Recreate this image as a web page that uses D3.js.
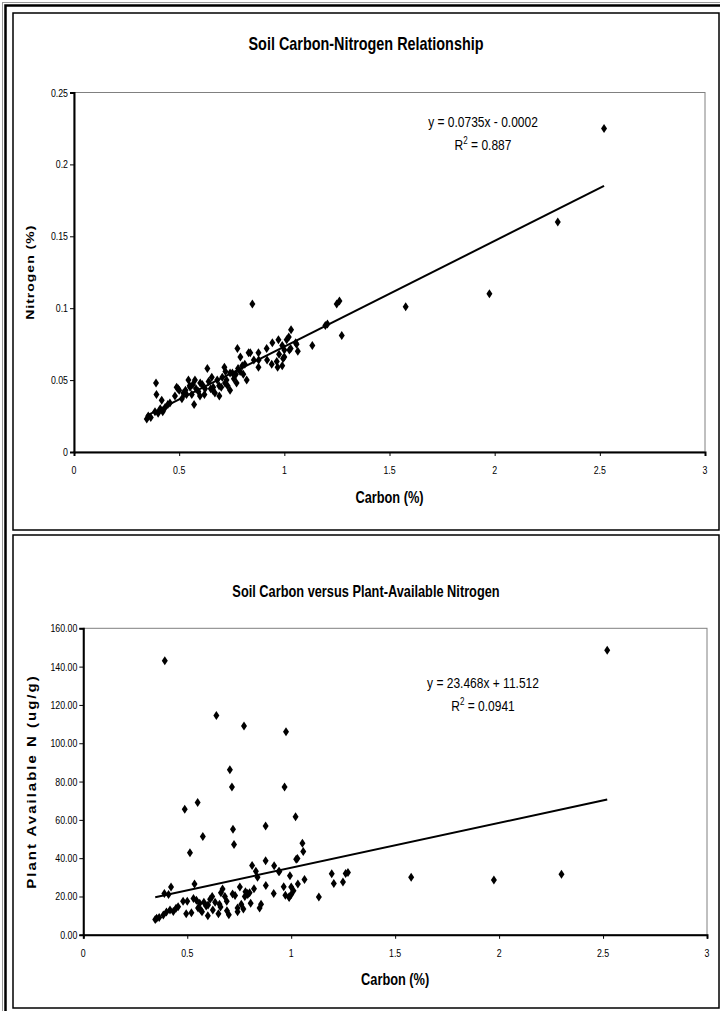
<!DOCTYPE html>
<html>
<head>
<meta charset="utf-8">
<script src="https://cdn.jsdelivr.net/npm/d3@7"></script>
<style>
  body { margin: 0; background: #fff; }
  svg { display: block; }
  text { font-family: "Liberation Sans", Arial, sans-serif; fill: #000; }
</style>
</head>
<body>
<svg id="fig" width="720" height="1011"></svg>
<script>
// Soil samples: total carbon (%), total nitrogen (%), plant-available N (ug/g)
const carbon = [
  0.346, 0.353, 0.365, 0.385, 0.390, 0.392, 0.400, 0.410, 0.417, 0.422,
  0.433, 0.446, 0.456, 0.488, 0.500, 0.513, 0.520, 0.535, 0.544, 0.550,
  0.552, 0.560, 0.571, 0.575, 0.580, 0.591, 0.599, 0.610, 0.623, 0.634,
  0.640, 0.655, 0.662, 0.670, 0.681, 0.691, 0.705, 0.715, 0.718, 0.720,
  0.725, 0.742, 0.742, 0.753, 0.770, 0.773, 0.777, 0.780, 0.791, 0.800,
  0.805, 0.812, 0.821, 0.830, 0.838, 0.848, 0.855, 0.877, 0.877, 0.878,
  0.916, 0.918, 0.943, 0.975, 0.964, 0.968, 0.972, 0.990, 0.994, 1.000,
  1.000, 1.011, 1.021, 1.024, 1.030, 1.032, 1.054, 1.058, 1.064, 1.133,
  1.195, 1.205, 1.249, 1.262, 1.273, 1.577, 1.975, 2.300, 2.520, 0.480,
  0.495, 0.530, 0.565, 0.600, 0.650, 0.690, 0.700, 0.730, 0.760, 0.790,
  0.940, 0.990, 0.660, 0.620
];
const nitrogen = [
  0.023, 0.025, 0.024, 0.028, 0.048, 0.040, 0.027, 0.030, 0.036, 0.028,
  0.031, 0.033, 0.034, 0.045, 0.043, 0.037, 0.041, 0.040, 0.050, 0.046,
  0.045, 0.040, 0.033, 0.050, 0.044, 0.042, 0.039, 0.047, 0.044, 0.058,
  0.049, 0.052, 0.045, 0.041, 0.050, 0.039, 0.052, 0.059, 0.048, 0.056,
  0.050, 0.055, 0.043, 0.055, 0.054, 0.048, 0.072, 0.058, 0.066, 0.060,
  0.054, 0.061, 0.050, 0.069, 0.069, 0.103, 0.064, 0.069, 0.059, 0.064,
  0.072, 0.064, 0.076, 0.068, 0.063, 0.059, 0.078, 0.060, 0.065, 0.071,
  0.066, 0.078, 0.080, 0.071, 0.072, 0.085, 0.076, 0.075, 0.070, 0.074,
  0.088, 0.089, 0.103, 0.105, 0.081, 0.101, 0.110, 0.160, 0.225, 0.039,
  0.044, 0.043, 0.047, 0.048, 0.044, 0.046, 0.045, 0.046, 0.051, 0.056,
  0.061, 0.074, 0.043, 0.040
];
const availableN = [
  8.0, 8.6, 9.0, 10.3, 21.5, 143.0, 11.9, 21.0, 12.9, 25.0,
  12.1, 13.8, 14.7, 65.5, 17.5, 42.8, 11.5, 26.5, 18.0, 69.1,
  14.0, 16.5, 12.0, 51.3, 17.0, 15.0, 10.0, 18.5, 13.0, 17.0,
  114.5, 16.0, 22.0, 23.9, 20.0, 12.5, 86.1, 77.1, 21.3, 55.1,
  47.1, 14.0, 12.0, 24.9, 13.5, 109.0, 20.0, 22.5, 21.0, 22.0,
  16.5, 36.2, 24.0, 33.2, 30.0, 14.0, 16.0, 56.8, 38.6, 25.8,
  21.6, 36.0, 33.1, 106.0, 25.1, 77.1, 20.6, 19.9, 30.8, 25.0,
  21.0, 23.0, 61.6, 39.5, 39.8, 26.5, 47.8, 43.5, 28.9, 19.7,
  31.9, 26.8, 27.5, 32.0, 32.5, 30.1, 28.6, 31.6, 148.5, 17.5,
  11.0, 19.0, 13.0, 15.5, 11.0, 17.5, 10.5, 20.5, 16.0, 21.5,
  33.0, 19.5, 14.5, 20.0
];

// Axis ticks
const carbonTicks = [0, 0.5, 1, 1.5, 2, 2.5, 3];
const nitrogenTicks = [0, 0.05, 0.1, 0.15, 0.2, 0.25];
const availableTicks = [0, 20, 40, 60, 80, 100, 120, 140, 160];

// Linear trendlines (slope, intercept, R squared)
const nitrogenFit = [0.0735, -0.0002, 0.887];
const availableFit = [23.468, 11.512, 0.0941];

const svg = d3.select("#fig");
const SQ = 0.8; // horizontal squeeze applied to the lettering

svg.append("rect").attr("width", 720).attr("height", 1011).attr("fill", "#fff");

// outer frame
svg.append("rect").attr("x", 2.5).attr("y", 2.5).attr("width", 730).attr("height", 1020)
  .attr("fill", "none").attr("stroke", "#999").attr("stroke-width", 1);
svg.append("rect").attr("x", 5.5).attr("y", 5.5).attr("width", 730).attr("height", 1020)
  .attr("fill", "none").attr("stroke", "#000").attr("stroke-width", 2.5);

function label(g, x, y, str, opts) {
  const o = Object.assign({ size: 11, weight: "normal", anchor: "middle", rotate: 0, spacing: 0, sq: SQ }, opts);
  const t = g.append("text")
    .attr("transform", `translate(${x},${y}) scale(${o.sq},1)` + (o.rotate ? ` rotate(${o.rotate})` : ""))
    .attr("text-anchor", o.anchor)
    .attr("font-size", o.size)
    .attr("font-weight", o.weight)
    .attr("letter-spacing", o.spacing)
    .text(str);
  return t;
}

function fmtTrend(fit) {
  const [m, b] = fit;
  const sign = b < 0 ? "-" : "+";
  return `y = ${m}x ${sign} ${Math.abs(b)}`;
}

function panel(cfg) {
  const g = svg.append("g");
  // chart box
  g.append("rect").attr("x", cfg.box[0]).attr("y", cfg.box[1])
    .attr("width", cfg.box[2] - cfg.box[0]).attr("height", cfg.box[3] - cfg.box[1])
    .attr("fill", "#fff").attr("stroke", "#000").attr("stroke-width", 1.5);

  const x = d3.scaleLinear().domain([0, 3]).range([cfg.plot[0], cfg.plot[2]]);
  const y = d3.scaleLinear().domain(cfg.yDomain).range([cfg.plot[3], cfg.plot[1]]);

  // plot area outline (top and right in grey)
  g.append("rect").attr("x", cfg.plot[0]).attr("y", cfg.plot[1])
    .attr("width", cfg.plot[2] - cfg.plot[0]).attr("height", cfg.plot[3] - cfg.plot[1])
    .attr("fill", "none").attr("stroke", "#808080").attr("stroke-width", 1);

  // axes
  const xAxis = g.append("g").attr("transform", `translate(0,${cfg.plot[3]})`)
    .call(d3.axisBottom(x).tickValues(carbonTicks).tickSize(4).tickFormat(() => ""));
  const yAxis = g.append("g").attr("transform", `translate(${cfg.plot[0]},0)`)
    .call(d3.axisLeft(y).tickValues(cfg.yTicks).tickSize(4).tickFormat(() => ""));
  [xAxis, yAxis].forEach(a => {
    a.select(".domain").attr("stroke", "#000").attr("stroke-width", 2);
    a.selectAll(".tick line").attr("stroke", "#000").attr("stroke-width", 1);
  });

  carbonTicks.forEach(v => label(g, x(v), cfg.plot[3] + 22, d3.format("")(v), { size: 11 }));
  cfg.yTicks.forEach(v => label(g, cfg.plot[0] - 6, y(v) + 4, cfg.yFmt(v), { size: 11, anchor: "end" }));

  // titles
  label(g, cfg.titleX, cfg.titleY, cfg.title, { size: cfg.titleSize, weight: "bold" });
  label(g, (cfg.plot[0] + cfg.plot[2]) / 2, cfg.xTitleY, "Carbon (%)", { size: 16, weight: "bold" });
  label(g, cfg.yTitleX, (cfg.plot[1] + cfg.plot[3]) / 2, cfg.yTitle,
    { size: cfg.yTitleSize, weight: "bold", rotate: -90, spacing: cfg.yTitleSpacing });

  // data points
  const pts = carbon.map((c, i) => [c, cfg.values[i]]);
  g.append("g").selectAll("path").data(pts).join("path")
    .attr("transform", d => `translate(${x(d[0])},${y(d[1])})`)
    .attr("d", "M0,-4.5L3,0L0,4.5L-3,0Z")
    .attr("fill", "#000");

  // trendline across the sampled carbon range
  const [m, b, r2] = cfg.fit;
  const xr = d3.extent(carbon);
  g.append("line")
    .attr("x1", x(xr[0])).attr("y1", y(m * xr[0] + b))
    .attr("x2", x(xr[1])).attr("y2", y(m * xr[1] + b))
    .attr("stroke", "#000").attr("stroke-width", 2);

  label(g, cfg.eqX, cfg.eqY, fmtTrend(cfg.fit), { size: 15 });
  const r = label(g, cfg.eqX, cfg.eqY + 23, "R", { size: 15 });
  r.append("tspan").attr("dy", -6).attr("font-size", 10).text("2");
  r.append("tspan").attr("dy", 6).text(" = " + r2);
}

panel({
  box: [13, 13, 719, 530],
  plot: [74, 92.5, 705, 452],
  yDomain: [0, 0.25],
  yTicks: nitrogenTicks,
  yFmt: d3.format(""),
  values: nitrogen,
  fit: nitrogenFit,
  title: "Soil Carbon-Nitrogen Relationship", titleSize: 18,
  titleX: 366, titleY: 50,
  xTitleY: 503,
  yTitle: "Nitrogen (%)", yTitleX: 34, yTitleSize: 14, yTitleSpacing: 1,
  eqX: 483, eqY: 127
});

panel({
  box: [13, 535, 719, 1008],
  plot: [83.3, 628.3, 707, 934.8],
  yDomain: [0, 160],
  yTicks: availableTicks,
  yFmt: d3.format(".2f"),
  values: availableN,
  fit: availableFit,
  title: "Soil Carbon versus Plant-Available Nitrogen", titleSize: 16,
  titleX: 366, titleY: 597,
  xTitleY: 985,
  yTitle: "Plant Available N (ug/g)", yTitleX: 36, yTitleSize: 15, yTitleSpacing: 2,
  eqX: 483, eqY: 688
});
</script>
</body>
</html>
